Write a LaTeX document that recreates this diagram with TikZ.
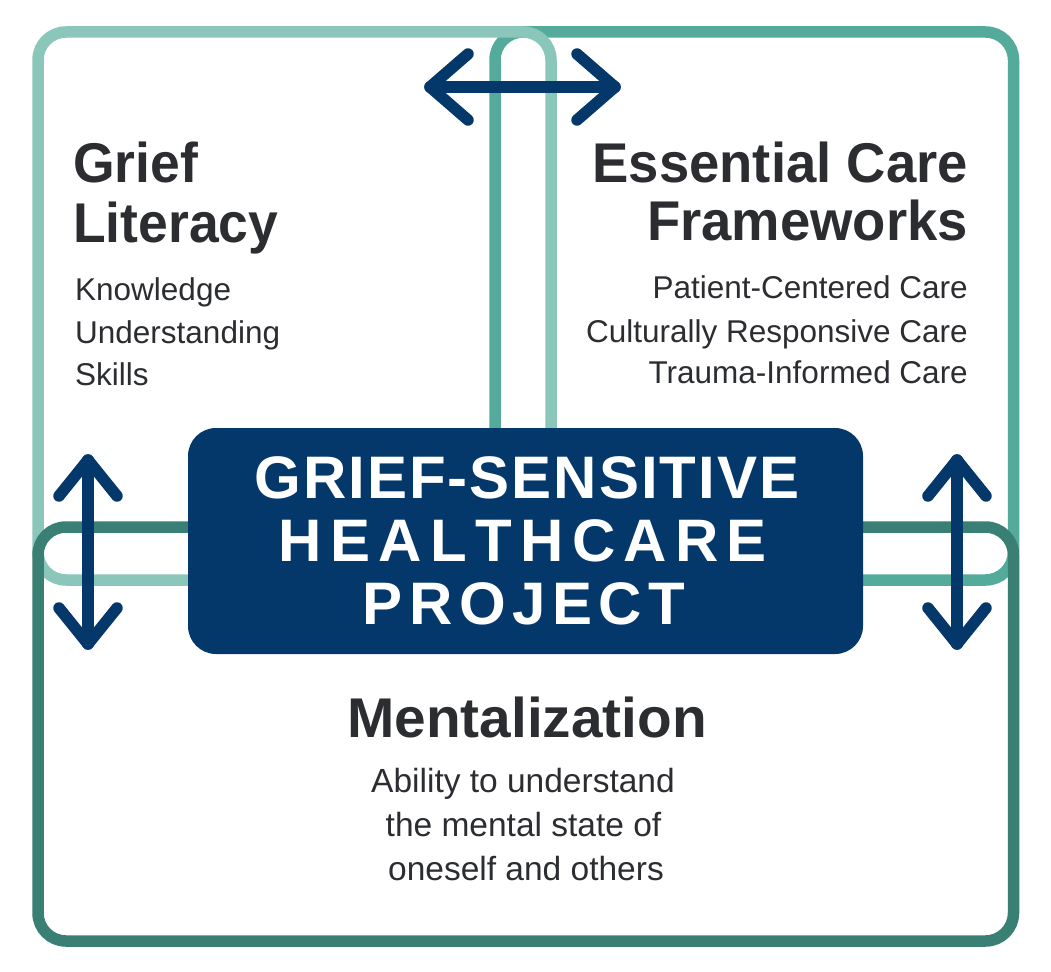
\documentclass[tikz,border=0pt]{standalone}
\usepackage{graphicx}
\usepackage{fontspec}
\setmainfont{Liberation Sans}
\definecolor{lightteal}{HTML}{8AC6BA}
\definecolor{midteal}{HTML}{55AB9B}
\definecolor{darkteal}{HTML}{3A7F74}
\definecolor{navy}{HTML}{04386B}
\definecolor{ink}{HTML}{2B2D31}
\makeatletter
\newcommand\trk[2]{\def\trk@gap{#1}\trk@a#2\relax}
\def\trk@a#1{\ifx#1\relax\else #1\expandafter\trk@b\fi}
\def\trk@b#1{\ifx#1\relax\else\kern\trk@gap\relax #1\expandafter\trk@b\fi}
\makeatother
\newcommand\sx[2]{\scalebox{#1}[1]{#2}}
\begin{document}
\begin{tikzpicture}[x=1pt,y=-1pt,
  frame/.style={line width=11.5pt, rounded corners=28pt},
  dblarrow/.style={navy, line width=11.5pt, line cap=round, line join=round},
  head/.style={font=\fontsize{56}{60}\selectfont\bfseries, text=ink, inner sep=0pt},
  item/.style={font=\fontsize{31.5}{42}\selectfont, text=ink, inner sep=0pt},
  desc/.style={font=\fontsize{33.5}{44}\selectfont, text=ink, inner sep=0pt},
  core/.style={font=\fontsize{60}{63}\selectfont\bfseries, text=white, inner sep=0pt, anchor=base}
]
\useasboundingbox (0,0) rectangle (1051,971);
\fill[white] (0,0) rectangle (1051,971);

% frames
\draw[frame, midteal] (495,32) rectangle (1013.5,580);
\draw[frame, lightteal] (38,32) rectangle (551,580);
\draw[frame, darkteal] (38,527) rectangle (1013.5,941);

% central box
\node (coreBox) [fill=navy, rounded corners=28pt, minimum width=675pt, minimum height=226pt, inner sep=0pt] at (525.5,541) {};
\node (c1) [core] at (527,498) {\trk{2pt}{GRIEF-SENSITIVE}};
\node (c2) [core] at (523,561) {\trk{8.3pt}{HEALTHCARE}};
\node (c3) [core] at (524,624) {\trk{6.5pt}{PROJECT}};

% Grief Literacy
\node (g1) [head, anchor=base west] at (73,182) {\sx{0.955}{Grief}};
\node (g2) [head, anchor=base west] at (73,242) {\sx{0.955}{Literacy}};
\node (g3) [item, anchor=base west] at (75,300) {Knowledge};
\node (g4) [item, anchor=base west] at (75,343) {Understanding};
\node (g5) [item, anchor=base west] at (75,385) {Skills};

% Essential Care Frameworks
\node (e1) [head, anchor=base east] at (968,182) {\sx{0.972}{Essential Care}};
\node (e2) [head, anchor=base east] at (968,240) {\sx{0.972}{Frameworks}};
\node (e3) [item, anchor=base east] at (968,298) {Patient-Centered Care};
\node (e4) [item, anchor=base east] at (968,342) {Culturally Responsive Care};
\node (e5) [item, anchor=base east] at (968,383) {Trauma-Informed Care};

% Mentalization
\node (m1) [head, anchor=base] at (527,737) {\sx{1.014}{Mentalization}};
\node (m2) [desc, anchor=base] at (523,792) {Ability to understand};
\node (m3) [desc, anchor=base] at (523.5,836) {the mental state of};
\node (m4) [desc, anchor=base] at (526,880) {oneself and others};

% arrows
\coordinate (hL) at (430,87);
\coordinate (hR) at (615,87);
\coordinate (lT) at (88,460);
\coordinate (lB) at (88,644);
\coordinate (rT) at (957,460);
\coordinate (rB) at (957,644);
\draw[dblarrow] (hL) -- (hR);
\draw[dblarrow] ([shift={(38,-33)}]hL) -- (hL) -- ([shift={(38,33)}]hL);
\draw[dblarrow] ([shift={(-38,-33)}]hR) -- (hR) -- ([shift={(-38,33)}]hR);
\draw[dblarrow] (lT) -- (lB);
\draw[dblarrow] ([shift={(-29,36)}]lT) -- (lT) -- ([shift={(29,36)}]lT);
\draw[dblarrow] ([shift={(-29,-36)}]lB) -- (lB) -- ([shift={(29,-36)}]lB);
\draw[dblarrow] (rT) -- (rB);
\draw[dblarrow] ([shift={(-29,36)}]rT) -- (rT) -- ([shift={(29,36)}]rT);
\draw[dblarrow] ([shift={(-29,-36)}]rB) -- (rB) -- ([shift={(29,-36)}]rB);
\end{tikzpicture}
\end{document}
